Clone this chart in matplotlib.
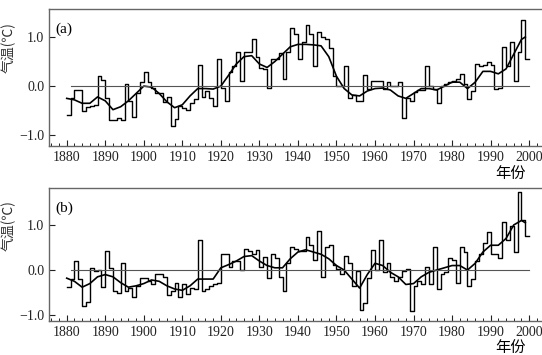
import numpy as np
import matplotlib
matplotlib.use("Agg")
import matplotlib.pyplot as plt
from matplotlib.ticker import MultipleLocator

plt.rcParams['font.family'] = ['Liberation Serif', 'Noto Sans CJK SC', 'DejaVu Sans']

years = list(range(1880, 2000))

# (a) yearly anomalies, 1880-1999
temp_a = [-0.58, -0.25, -0.07, -0.07, -0.50, -0.43, -0.41, -0.38, 0.20, 0.12,
          -0.25, -0.69, -0.69, -0.64, -0.69, 0.04, -0.30, -0.62, -0.15, 0.08,
          0.29, 0.08, -0.04, -0.15, -0.15, -0.33, -0.22, -0.81, -0.67, -0.40,
          -0.45, -0.48, -0.35, -0.27, 0.42, -0.22, -0.09, -0.25, -0.40, 0.56,
          -0.04, -0.30, 0.28, 0.41, 0.70, 0.10, 0.70, 0.70, 0.96, 0.60,
          0.37, 0.34, -0.04, 0.56, 0.56, 0.67, 0.15, 0.70, 1.18, 1.07,
          0.55, 0.89, 1.25, 1.07, 0.40, 1.10, 1.00, 0.96, 0.78, 0.20,
          0.00, 0.00, 0.40, -0.24, -0.18, -0.30, -0.30, 0.22, -0.06, 0.10,
          0.10, 0.10, -0.06, 0.08, 0.00, 0.00, 0.08, -0.65, -0.25, -0.30,
          -0.12, -0.08, -0.08, 0.40, 0.00, -0.06, -0.35, 0.00, 0.05, 0.08,
          0.10, 0.15, 0.25, 0.05, -0.27, -0.10, 0.45, 0.40, 0.42, 0.50,
          0.44, -0.05, -0.04, 0.80, 0.40, 0.90, 0.10, 0.70, 1.35, 0.55]

# (b) yearly anomalies, 1880-1999
temp_b = [-0.38, -0.20, 0.19, -0.20, -0.80, -0.70, 0.04, -0.01, 0.00, -0.38,
          0.42, 0.04, -0.46, -0.50, 0.15, -0.46, -0.39, -0.60, -0.35, -0.18,
          -0.18, -0.24, -0.32, -0.08, -0.08, -0.15, -0.56, -0.46, -0.28, -0.60,
          -0.32, -0.53, -0.39, -0.42, 0.67, -0.46, -0.42, -0.35, -0.32, -0.28,
          0.35, 0.35, 0.07, 0.21, 0.19, 0.00, 0.47, 0.43, 0.35, 0.44,
          0.07, 0.29, -0.18, 0.35, 0.27, -0.15, -0.46, 0.15, 0.52, 0.47,
          0.43, 0.43, 0.73, 0.55, 0.23, 0.87, -0.15, 0.51, 0.55, 0.11,
          0.03, -0.08, 0.31, 0.15, -0.35, -0.03, -0.88, -0.74, -0.18, 0.44,
          0.00, 0.67, -0.04, 0.15, -0.15, -0.25, -0.15, -0.03, 0.02, -0.91,
          -0.35, -0.24, -0.32, 0.07, -0.32, 0.52, -0.42, -0.08, -0.04, 0.27,
          0.23, -0.28, 0.52, 0.39, -0.35, -0.19, 0.19, 0.35, 0.59, 0.84,
          0.35, 0.35, 0.27, 1.06, 0.67, 0.98, 0.39, 1.74, 1.10, 0.75]

# smoothed curves, read every 2 years
smooth_years = list(range(1880, 2000, 2)) + [1999]
smooth_a = [-0.25, -0.28, -0.35, -0.35, -0.22, -0.30, -0.48, -0.42, -0.30, -0.15,
            0.00, -0.02, -0.15, -0.32, -0.44, -0.38, -0.20, -0.05, -0.05, -0.06,
            0.00, 0.22, 0.45, 0.60, 0.62, 0.45, 0.38, 0.50, 0.65, 0.80,
            0.85, 0.85, 0.84, 0.82, 0.60, 0.20, -0.05, -0.18, -0.20, -0.10,
            -0.05, -0.04, -0.08, -0.20, -0.25, -0.15, -0.05, -0.05, -0.08, 0.00,
            0.08, 0.08, -0.05, 0.08, 0.30, 0.30, 0.25, 0.35, 0.65, 0.95, 1.00]
smooth_b = [-0.18, -0.25, -0.38, -0.30, -0.15, -0.10, -0.15, -0.28, -0.38, -0.35,
            -0.30, -0.22, -0.25, -0.35, -0.42, -0.45, -0.35, -0.20, -0.20, -0.20,
            0.05, 0.12, 0.20, 0.30, 0.32, 0.20, 0.10, 0.05, 0.05, 0.25,
            0.40, 0.45, 0.40, 0.35, 0.25, 0.10, 0.00, -0.20, -0.40, -0.10,
            0.15, 0.10, -0.05, -0.15, -0.32, -0.30, -0.15, -0.05, 0.00, 0.05,
            0.10, 0.10, 0.00, 0.15, 0.40, 0.55, 0.55, 0.70, 1.00, 1.10, 1.05]

panels = [
    ("(a)", temp_a, smooth_a, [0.0904, 0.5887, 0.92, 0.3859], (-1.22, 1.57)),
    ("(b)", temp_b, smooth_b, [0.0904, 0.0958, 0.92, 0.3746], (-1.13, 1.82)),
]

fig = plt.figure(figsize=(5.42, 3.55), dpi=100)

for label, vals, smooth, pos, ylim in panels:
    ax = fig.add_axes(pos)
    step_x = years + [2000]
    step_y = vals + [vals[-1]]
    ax.step(step_x, step_y, where="post", color="black", lw=1.0)
    ax.plot(smooth_years, smooth, color="black", lw=1.2)
    ax.plot([1881, 2000], [0, 0], color="#555555", lw=0.8)

    ax.set_xlim(1875.4, 2004.8)
    ax.set_ylim(*ylim)
    ax.set_xticks(range(1880, 2001, 10))
    ax.xaxis.set_minor_locator(MultipleLocator(2))
    ax.set_yticks([-1.0, 0.0, 1.0])
    ax.set_yticklabels(["\u22121.0", "0.0", "1.0"])
    ax.tick_params(direction="in", length=4, width=0.8, labelsize=10, colors="#222222")
    ax.tick_params(which="minor", direction="in", length=2, width=0.6)
    ax.spines["right"].set_visible(False)
    for s in ["left", "top", "bottom"]:
        ax.spines[s].set_color("#666666")
        ax.spines[s].set_linewidth(1.0)

    ax.text(0.012, 0.85, label, transform=ax.transAxes, fontsize=11, va="center")
    ax.text(0.925, -0.20, "年份", transform=ax.transAxes, fontsize=11,
            ha="center", va="center", family=["Noto Sans CJK SC", "DejaVu Sans"])
    ylab_y = pos[1] + pos[3] * 0.72
    fig.text(0.016, ylab_y, "气温(℃)", rotation=90, ha="center", va="center",
             fontsize=10, color="#333333", family=["Noto Sans CJK SC", "DejaVu Sans"])

fig.savefig("out.png", dpi=100)
